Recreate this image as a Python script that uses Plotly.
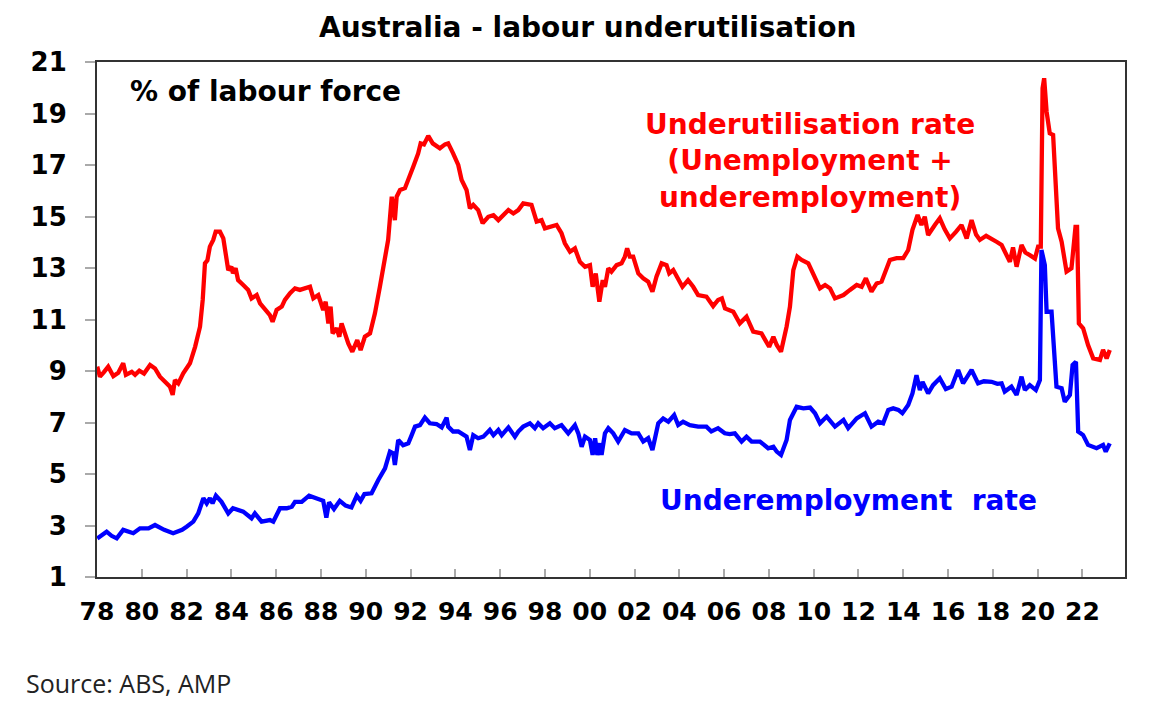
import plotly.graph_objects as go

# Underutilisation rate (red) - decimal year, % of labour force
red_x = [1978.01,1978.13,1978.3,1978.5,1978.73,1978.95,1979.17,1979.29,1979.55,1979.7,1979.89,1980.1,1980.37,1980.59,1980.81,
         1981.04,1981.26,1981.38,1981.48,1981.63,1981.85,1982.15,1982.38,1982.6,1982.72,1982.82,1982.93,1983.04,1983.19,1983.3,
         1983.49,1983.64,1983.86,1984.0,1984.07,1984.19,1984.3,1984.53,1984.75,1984.9,1985.13,1985.28,1985.5,1985.72,1985.84,
         1986.02,1986.25,1986.39,1986.62,1986.84,1987.06,1987.3,1987.51,1987.66,1987.88,1988.1,1988.21,1988.33,1988.43,1988.52,
         1988.7,1988.82,1988.92,1989.07,1989.22,1989.4,1989.62,1989.77,1989.96,1990.19,1990.41,1990.63,1990.86,1991.0,1991.16,
         1991.3,1991.38,1991.53,1991.75,1991.9,1992.12,1992.34,1992.45,1992.6,1992.79,1992.99,1993.31,1993.54,1993.68,1993.9,
         1994.13,1994.28,1994.5,1994.65,1994.8,1995.02,1995.22,1995.47,1995.7,1995.92,1996.14,1996.37,1996.59,1996.81,1997.03,
         1997.4,1997.63,1997.85,1998.0,1998.3,1998.52,1998.74,1998.89,1999.12,1999.34,1999.56,1999.79,2000.01,2000.13,2000.27,
         2000.43,2000.58,2000.68,2000.83,2000.97,2001.2,2001.42,2001.57,2001.67,2001.79,2001.94,2002.17,2002.39,2002.61,2002.8,
         2002.98,2003.21,2003.43,2003.55,2003.73,2003.95,2004.14,2004.39,2004.62,2004.84,2005.21,2005.51,2005.73,2005.9,2006.04,
         2006.41,2006.7,2007.0,2007.3,2007.67,2008.01,2008.2,2008.35,2008.54,2008.79,2008.94,2009.09,2009.27,2009.46,2009.76,
         2010.06,2010.28,2010.51,2010.73,2010.95,2011.33,2011.62,2011.92,2012.14,2012.33,2012.58,2012.81,2013.03,2013.18,2013.4,
         2013.7,2014.0,2014.22,2014.41,2014.64,2014.81,2014.96,2015.11,2015.41,2015.63,2015.85,2016.08,2016.35,2016.6,2016.83,
         2017.05,2017.25,2017.42,2017.7,2017.94,2018.2,2018.39,2018.55,2018.76,2018.9,2019.06,2019.28,2019.45,2019.65,2019.88,
         2020.02,2020.14,2020.22,2020.29,2020.4,2020.54,2020.69,2020.91,2021.07,2021.29,2021.51,2021.58,2021.69,2021.76,2021.84,
         2022.03,2022.25,2022.48,2022.78,2022.92,2023.08,2023.22]
red_y = [9.17,8.78,8.95,9.17,8.8,8.93,9.3,8.85,8.97,8.85,9.01,8.9,9.23,9.1,8.78,
         8.58,8.39,8.07,8.65,8.52,8.91,9.3,9.94,10.72,11.76,13.18,13.3,13.83,14.09,14.41,
         14.41,14.15,12.92,13.05,12.8,12.99,12.53,12.34,12.15,11.82,11.95,11.63,11.43,11.17,10.91,
         11.37,11.5,11.76,12.02,12.21,12.15,12.21,12.27,11.82,11.95,11.37,11.69,10.85,11.5,10.46,
         10.66,10.33,10.85,10.46,10.07,9.75,10.2,9.81,10.33,10.46,11.24,12.27,13.31,14.09,15.77,
         14.86,15.77,16.03,16.1,16.48,16.93,17.45,17.84,17.8,18.13,17.84,17.65,17.8,17.84,17.45,
         17.0,16.42,16.03,15.32,15.45,15.25,14.74,14.99,15.05,14.86,15.05,15.25,15.12,15.25,15.51,
         15.45,14.8,14.86,14.54,14.61,14.67,14.35,13.96,13.63,13.76,13.24,13.05,13.11,12.27,12.79,
         11.69,12.53,12.27,12.99,12.86,13.11,13.18,13.44,13.76,13.44,13.44,12.79,12.6,12.47,12.08,
         12.66,13.18,13.11,12.79,12.92,12.6,12.27,12.53,12.27,11.95,11.89,11.52,11.76,11.82,11.43,
         11.3,10.85,11.11,10.53,10.46,9.94,10.33,10.01,9.75,10.72,11.5,12.92,13.44,13.31,13.18,
         12.66,12.21,12.34,12.21,11.82,11.95,12.15,12.34,12.27,12.6,12.08,12.4,12.47,12.86,13.31,
         13.38,13.38,13.7,14.48,15.06,14.67,14.99,14.28,14.67,14.93,14.5,14.15,14.4,14.67,14.15,
         14.86,14.3,14.09,14.25,14.15,14.0,13.89,13.6,13.24,13.8,13.05,13.89,13.6,13.5,13.37,
         13.83,13.83,19.98,20.37,19.07,18.23,18.17,14.54,14.02,12.86,12.99,13.83,14.6,14.6,10.85,
         10.66,10.01,9.49,9.43,9.82,9.49,9.82]

# Underemployment rate (blue)
blue_x = [1978.01,1978.2,1978.43,1978.65,1978.88,1979.17,1979.4,1979.62,1979.92,1980.3,1980.59,1981.0,1981.4,1981.8,1982.0,
          1982.3,1982.52,1982.75,1982.9,1983.04,1983.16,1983.31,1983.56,1983.86,1984.07,1984.3,1984.53,1984.9,1985.05,1985.35,
          1985.72,1985.87,1986.17,1986.47,1986.7,1986.84,1987.14,1987.47,1987.82,1988.1,1988.24,1988.36,1988.58,1988.84,1989.1,
          1989.36,1989.6,1989.77,1989.94,1990.26,1990.56,1990.86,1991.08,1991.23,1991.3,1991.45,1991.67,1991.9,1992.05,1992.2,
          1992.42,1992.64,1992.86,1993.16,1993.39,1993.61,1993.68,1993.9,1994.13,1994.35,1994.5,1994.65,1994.8,1995.02,1995.25,
          1995.54,1995.7,1995.92,1996.07,1996.37,1996.55,1996.66,1996.81,1997.03,1997.33,1997.55,1997.7,1997.92,1998.22,1998.44,
          1998.74,1999.04,1999.34,1999.49,1999.64,1999.79,2000.01,2000.13,2000.24,2000.34,2000.46,2000.53,2000.68,2000.83,2001.05,
          2001.27,2001.57,2001.87,2002.17,2002.39,2002.61,2002.8,2003.06,2003.28,2003.51,2003.77,2003.95,2004.17,2004.47,2004.84,
          2005.21,2005.43,2005.73,2006.03,2006.25,2006.48,2006.78,2007.0,2007.23,2007.6,2007.97,2008.2,2008.35,2008.54,2008.79,
          2008.94,2009.24,2009.54,2009.84,2010.06,2010.28,2010.58,2010.95,2011.33,2011.54,2011.92,2012.29,2012.58,2012.88,2013.1,
          2013.33,2013.55,2013.78,2013.96,2014.22,2014.41,2014.59,2014.74,2014.86,2015.11,2015.33,2015.63,2015.9,2016.16,2016.45,
          2016.67,2017.05,2017.34,2017.6,2017.94,2018.2,2018.39,2018.53,2018.83,2019.06,2019.28,2019.43,2019.65,2019.92,2020.1,
          2020.17,2020.32,2020.4,2020.62,2020.84,2021.07,2021.21,2021.44,2021.56,2021.71,2021.81,2022.03,2022.25,2022.63,2022.92,
          2023.04,2023.22]
blue_y = [2.5,2.6,2.76,2.6,2.5,2.83,2.75,2.7,2.89,2.89,3.02,2.83,2.7,2.83,2.95,
          3.15,3.47,4.06,3.86,4.06,3.86,4.16,3.92,3.47,3.67,3.6,3.54,3.28,3.47,3.15,
          3.21,3.15,3.67,3.67,3.73,3.92,3.92,4.16,4.03,3.96,3.31,3.9,3.64,3.96,3.77,
          3.7,4.16,3.96,4.22,4.25,4.77,5.22,5.87,5.8,5.35,6.32,6.12,6.19,6.51,6.84,
          6.9,7.19,6.97,6.94,6.81,7.19,6.84,6.65,6.65,6.51,6.45,5.93,6.51,6.39,6.45,
          6.71,6.51,6.71,6.51,6.81,6.6,6.45,6.65,6.84,6.97,6.78,6.97,6.78,6.97,6.78,
          6.9,6.58,6.9,6.58,6.06,6.45,6.32,5.74,6.39,5.74,6.19,5.74,6.58,6.78,6.58,
          6.26,6.71,6.58,6.58,6.26,6.39,5.93,6.97,7.16,7.03,7.29,6.9,7.03,6.9,6.84,
          6.84,6.65,6.78,6.58,6.55,6.58,6.26,6.45,6.26,6.26,6.0,6.06,5.87,5.74,6.32,
          7.1,7.61,7.55,7.58,7.36,6.97,7.23,6.84,7.1,6.78,7.16,7.36,6.84,7.03,6.97,
          7.49,7.55,7.49,7.36,7.68,8.13,8.84,8.26,8.58,8.13,8.45,8.72,8.3,8.39,9.04,
          8.52,9.04,8.52,8.6,8.58,8.5,8.52,8.2,8.39,8.07,8.78,8.26,8.45,8.26,8.65,
          13.7,13.12,11.3,11.3,8.39,8.33,7.81,8.07,9.23,9.36,6.65,6.51,6.13,6.0,6.13,
          5.87,6.19]

x_tick_vals = list(range(1978, 2023, 2))
x_tick_text = [f"{v % 100:02d}" for v in x_tick_vals]
y_tick_vals = list(range(1, 22, 2))

BOLD = "DejaVu Sans, Arial, sans-serif"

# plot area in page pixels (page body has an 8px margin)
PL, PR, PT, PB = 97, 1125, 62, 577
OFF = 8
W, H = 1163 - OFF, 716 - OFF


def px(x):
    return (x - PL) / (PR - PL)


def py(y):
    return 1 - (y - PT) / (PB - PT)


fig = go.Figure()
fig.add_trace(go.Scatter(x=red_x, y=red_y, mode="lines",
                         line=dict(color="#ff0000", width=4.3), name="Underutilisation rate"))
fig.add_trace(go.Scatter(x=blue_x, y=blue_y, mode="lines",
                         line=dict(color="#0000ff", width=4.3), name="Underemployment rate"))

fig.update_layout(
    width=W, height=H,
    margin=dict(l=PL - OFF, r=W - (PR - OFF), t=PT - OFF, b=H - (PB - OFF), pad=0),
    paper_bgcolor="white", plot_bgcolor="white",
    showlegend=False,
    font=dict(family=BOLD, color="black"),
)
fig.update_xaxes(
    range=[1978, 2023.9], tickvals=x_tick_vals, ticktext=x_tick_text,
    ticks="inside", ticklen=8, tickcolor="#aaaaaa", tickwidth=1.5,
    showline=True, linecolor="#333333", linewidth=2, mirror=True,
    showgrid=False, zeroline=False,
    tickfont=dict(family=BOLD, size=25, color="black", weight="bold"),
    ticklabelstandoff=11,
)
fig.update_yaxes(
    range=[1, 21], tickvals=y_tick_vals,
    ticks="outside", ticklen=10, tickcolor="#aaaaaa", tickwidth=1.5,
    showline=True, linecolor="#333333", linewidth=2, mirror=True,
    showgrid=False, zeroline=False,
    tickfont=dict(family=BOLD, size=26, color="black", weight="bold"),
    ticklabelstandoff=13,
)

fig.add_annotation(text="<b>Australia - labour underutilisation</b>", xref="paper", yref="paper",
                   x=px(587), y=py(28), xanchor="center", yanchor="middle",
                   showarrow=False, font=dict(family=BOLD, size=28, color="black"))
fig.add_annotation(text="<b>% of labour force</b>", xref="paper", yref="paper",
                   x=px(128), y=py(91), xanchor="left", yanchor="middle",
                   showarrow=False, font=dict(family=BOLD, size=28, color="black"))
fig.add_annotation(text="<b>Underutilisation rate<br>(Unemployment +<br>underemployment)</b>",
                   xref="paper", yref="paper",
                   x=px(810), y=py(161), xanchor="center", yanchor="middle",
                   align="center", showarrow=False, font=dict(family=BOLD, size=28, color="#ff0000"))
fig.add_annotation(text="<b>Underemployment  rate</b>", xref="paper", yref="paper",
                   x=px(658), y=py(500), xanchor="left", yanchor="middle",
                   showarrow=False, font=dict(family=BOLD, size=28, color="#0000ff"))
fig.add_annotation(text="Source: ABS, AMP", xref="paper", yref="paper",
                   x=px(24), y=py(683), xanchor="left", yanchor="middle",
                   showarrow=False, font=dict(family="Open Sans, Noto Sans, sans-serif", size=25, color="#222222"))

fig.write_html("out.html")
